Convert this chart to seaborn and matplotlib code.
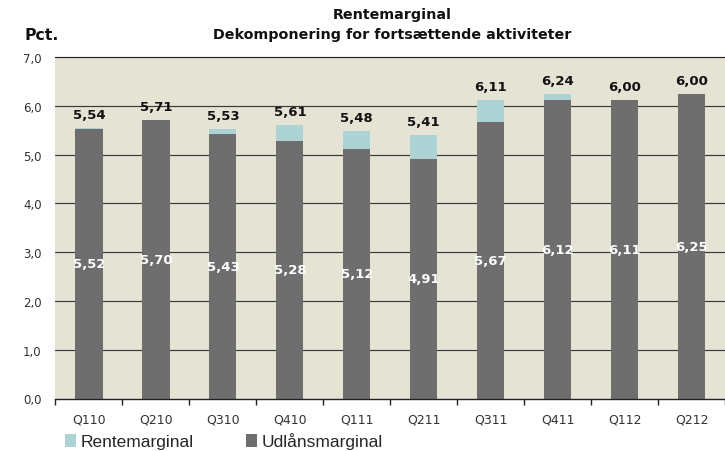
import matplotlib
matplotlib.use("Agg")
import matplotlib.pyplot as plt
import seaborn as sns
import pandas as pd
from matplotlib.patches import Patch

quarters = ["Q110", "Q210", "Q310", "Q410", "Q111", "Q211", "Q311", "Q411", "Q112", "Q212"]
rentemarginal = [5.54, 5.71, 5.53, 5.61, 5.48, 5.41, 6.11, 6.24, 6.00, 6.00]
udlaansmarginal = [5.52, 5.70, 5.43, 5.28, 5.12, 4.91, 5.67, 6.12, 6.11, 6.25]
yticks = [0, 1, 2, 3, 4, 5, 6, 7]

TEAL = "#AED3D4"
DARK = "#6E6E6E"
BG = "#E5E3D3"

sns.set_theme(style="white")
plt.rcParams['font.family'] = ['DejaVu Sans']

def fmt(v):
    return f"{v:.2f}".replace(".", ",")

df = pd.DataFrame({"Kvartal": quarters, "Rentemarginal": rentemarginal,
                   "Udlaansmarginal": udlaansmarginal})

W, H = 725, 452
fig = plt.figure(figsize=(W / 100, H / 100), dpi=100)
left, right, top, bottom = 55.5, 725, 58, 399.5
ax = fig.add_axes([left / W, 1 - bottom / H, (right - left) / W, (bottom - top) / H])
ax.set_facecolor(BG)

sns.barplot(data=df, x="Kvartal", y="Rentemarginal", color=TEAL, width=0.406,
            saturation=1, ax=ax, linewidth=0, zorder=3)
sns.barplot(data=df, x="Kvartal", y="Udlaansmarginal", color=DARK, width=0.406,
            saturation=1, ax=ax, linewidth=0, zorder=4)

ax.set_ylim(0, 7)
ax.set_xlim(-0.5, 9 + 14 / 69)
ax.set_yticks(yticks)
ax.set_yticklabels([f"{t:.1f}".replace(".", ",") for t in yticks], fontsize=8.5, color="#333333")
ax.tick_params(axis="y", length=0, pad=10)
ax.set_xticks(range(len(quarters)))
ax.set_xticklabels(quarters, fontsize=9, color="#333333")
ax.set_xticks([i - 0.5 for i in range(len(quarters) + 1)], minor=True)
ax.tick_params(axis="x", which="major", length=0, pad=10)
ax.tick_params(axis="x", which="minor", length=4, width=1, color="#222222", bottom=True)
ax.set_xlabel("")
ax.set_ylabel("")

for t in yticks[1:]:
    ax.axhline(t, color="#3a3a3a" if t < 7 else "#222222", lw=0.85, zorder=2, clip_on=False)

for s in ["left", "right", "top"]:
    ax.spines[s].set_visible(False)
ax.spines["bottom"].set_color("#222222")
ax.spines["bottom"].set_linewidth(1.0)
ax.spines["bottom"].set_zorder(5)

for i, (r, u) in enumerate(zip(rentemarginal, udlaansmarginal)):
    ax.annotate(fmt(r), (i, max(r, u)), xytext=(0, 5), textcoords="offset points",
                ha="center", va="bottom", fontsize=9.5, fontweight="bold", color="#111111", zorder=6)
    ax.text(i, u / 2, fmt(u), ha="center", va="center", fontsize=9.5,
            fontweight="bold", color="white", zorder=6)

fig.text(392 / W, 1 - 15 / H, "Rentemarginal", ha="center", va="center",
         fontsize=10.3, fontweight="bold", color="#111111")
fig.text(392 / W, 1 - 35 / H, "Dekomponering for fortsættende aktiviteter", ha="center",
         va="center", fontsize=10.3, fontweight="bold", color="#111111")
fig.text(24 / W, 1 - 35 / H, "Pct.", ha="left", va="center", fontsize=11.3,
         fontweight="bold", color="#111111")

handles = [Patch(facecolor=TEAL, edgecolor="none", label="Rentemarginal"),
           Patch(facecolor=DARK, edgecolor="none", label="Udlånsmarginal")]
fig.legend(handles=handles, loc="center left", bbox_to_anchor=(65 / W, 1 - 442 / H),
           ncol=2, frameon=False, handlelength=0.65, handleheight=0.75,
           handletextpad=0.25, columnspacing=3.0, borderaxespad=0, borderpad=0,
           prop={"family": ["Liberation Sans", "DejaVu Sans"], "size": 12.5})

fig.savefig("out.png", dpi=100)
